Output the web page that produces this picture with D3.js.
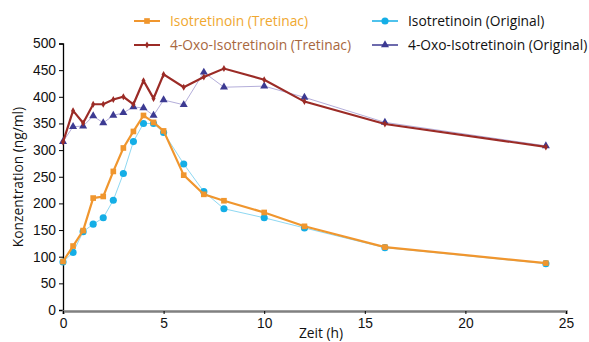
<!DOCTYPE html>
<html><head><meta charset="utf-8">
<script src="https://cdn.jsdelivr.net/npm/d3@7"></script>
<style>body{margin:0;background:#fff;}svg{display:block;font-family:"Open Sans","Noto Sans",sans-serif;}</style>
</head><body>
<svg id="c" width="589" height="342"></svg>
<script>
const times = [0,0.5,1,1.5,2,2.5,3,3.5,4,4.5,5,6,7,8,10,12,16,24];
const isoTretinac = [91,120,149,210,213,260,304,335,365,352,336,253,217,205,183,157,118,88];
const isoOriginal = [90,108,147,161,173,206,256,316,350,350,333,274,222,190,173,154,117,87];
const oxoTretinac = [315,374,351,386,386,395,400,386,430,397,442,418,437,453,432,391,349,306];
const oxoOriginal = [316,344,345,364,351,365,370,381,379,365,394,385,446,418,420,399,352,308];
const xTicks = [0,5,10,15,20,25];
const yTicks = [0,50,100,150,200,250,300,350,400,450,500];

const series = [
  {name:"Isotretinoin (Tretinac)", vals:isoTretinac, line:"#F0962E", mark:"#F0962E", lw:2.2, shape:"square", text:"#F0A830", lx:134, ly:21},
  {name:"Isotretinoin (Original)", vals:isoOriginal, line:"#8ED8F2", mark:"#14AEE6", lw:1, shape:"circle", text:"#111", lx:372, ly:21},
  {name:"4-Oxo-Isotretinoin (Tretinac)", vals:oxoTretinac, line:"#9B2B26", mark:"#9B2B26", lw:2.2, shape:"diamond", text:"#A8673E", lx:134, ly:45},
  {name:"4-Oxo-Isotretinoin (Original)", vals:oxoOriginal, line:"#B4AEDA", mark:"#3C3A92", lw:1, shape:"triangle", text:"#111", lx:372, ly:45}
];

const FS = 13.8;
const svg = d3.select("#c");
const x = d3.scaleLinear().domain([0,25]).range([63,566]);
const y = d3.scaleLinear().domain([0,500]).range([310,43.5]);

// axes
const yAxis = svg.append("g").attr("transform","translate(63,0)")
  .call(d3.axisLeft(y).tickValues(yTicks).tickSize(4).tickPadding(3));
yAxis.select(".domain").attr("stroke","#000").attr("stroke-width",1.3);
yAxis.selectAll(".tick line").attr("stroke","#000");
yAxis.selectAll("text").attr("font-size",FS).attr("fill","#111");

const xAxis = svg.append("g").attr("transform","translate(0,311)")
  .call(d3.axisBottom(x).tickValues(xTicks).tickSize(3).tickPadding(4).tickSizeOuter(3));
xAxis.select(".domain").attr("stroke","#808080").attr("stroke-width",2.5);
xAxis.selectAll(".tick line").attr("stroke","#000");
xAxis.selectAll("text").attr("font-size",FS).attr("fill","#111");

svg.append("text").attr("x",321).attr("y",338).attr("text-anchor","middle")
  .attr("font-size",FS).attr("fill","#111").text("Zeit (h)");
svg.append("text").attr("transform","translate(23,177) rotate(-90)").attr("text-anchor","middle")
  .attr("font-size",FS).attr("fill","#111").text("Konzentration (ng/ml)");

const sym = {square:d3.symbolSquare, circle:d3.symbolCircle, diamond:d3.symbolDiamond, triangle:d3.symbolTriangle};
const size = {square:32, circle:40, diamond:14, triangle:28};

const line = d3.line().x(d=>x(d[0])).y(d=>y(d[1]));
const drawOrder = [1,3,0,2];
drawOrder.forEach(i=>{
  const s = series[i];
  const pts = times.map((t,j)=>[t,s.vals[j]]);
  const g = svg.append("g");
  g.append("path").attr("d",line(pts)).attr("fill","none").attr("stroke",s.line).attr("stroke-width",s.lw);
  g.selectAll("path.m").data(pts).enter().append("path").attr("class","m")
    .attr("transform",d=>`translate(${x(d[0])},${y(d[1])})`)
    .attr("d",d3.symbol().type(sym[s.shape]).size(size[s.shape])).attr("fill",s.mark);
});

// legend
series.forEach(s=>{
  const g = svg.append("g");
  g.append("line").attr("x1",s.lx).attr("x2",s.lx+26).attr("y1",s.ly).attr("y2",s.ly)
    .attr("stroke",s.shape==="triangle"?"#3C3A92":(s.shape==="circle"?"#14AEE6":s.line)).attr("stroke-width",s.lw>1?2:1.5);
  g.append("path").attr("transform",`translate(${s.lx+13},${s.ly})`)
    .attr("d",d3.symbol().type(sym[s.shape]).size(size[s.shape])).attr("fill",s.mark);
  g.append("text").attr("x",s.lx+36).attr("y",s.ly+5).attr("font-size",FS).attr("fill",s.text).text(s.name);
});
</script>
</body></html>
